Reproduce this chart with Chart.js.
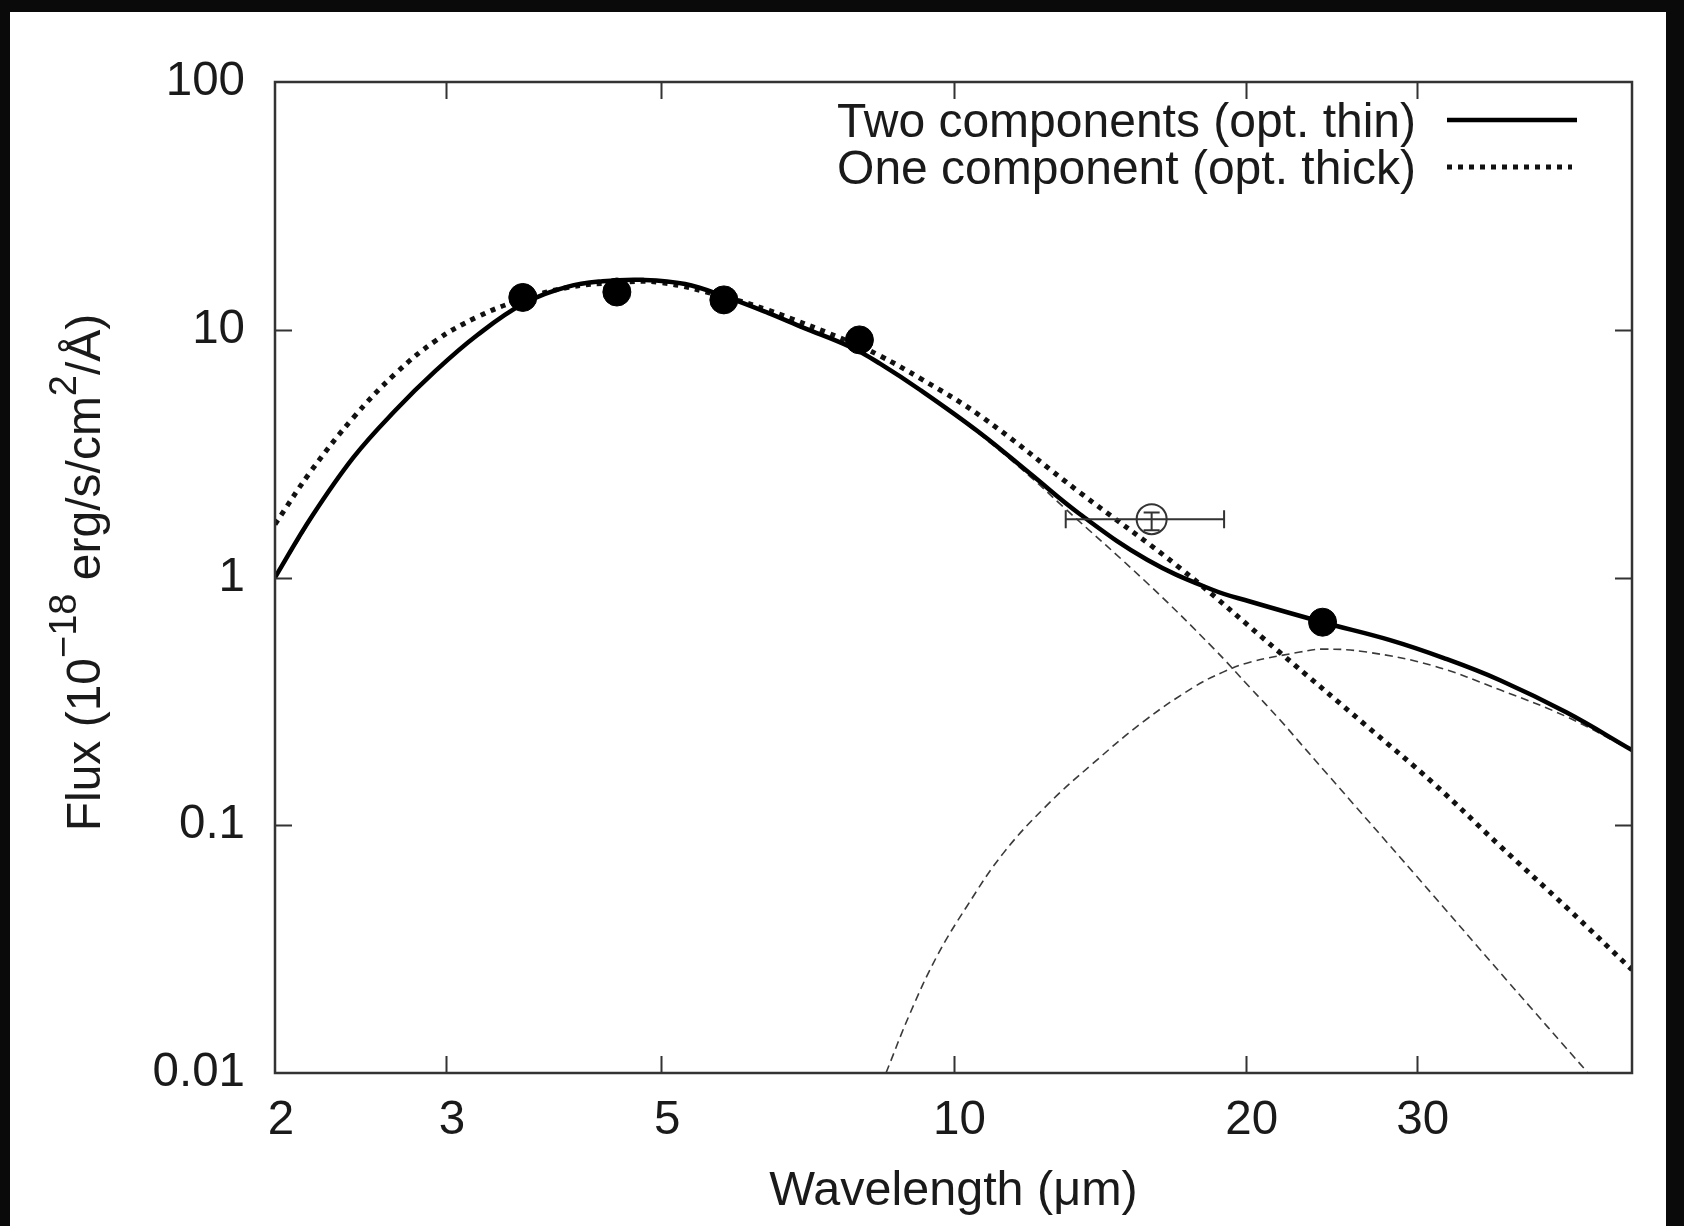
<!DOCTYPE html>
<html>
<head>
<meta charset="utf-8">
<title>SED fit</title>
<script src="https://cdn.jsdelivr.net/npm/chart.js@4.4.1/dist/chart.umd.min.js"></script>
<style>
  html, body { margin: 0; padding: 0; background: #0a0a0a; overflow: hidden; }
  body { width: 1684px; height: 1226px; position: relative; }
  #sedChart { position: absolute; left: 10px; top: 12px; background: #ffffff; }
</style>
</head>
<body>
<canvas id="sedChart" width="1656" height="1214"></canvas>
<script>
// Photometry (filled) and the 16 micron point (open, with error bars)
const photX = [3.6, 4.5, 5.8, 8.0, 24.0];
const photY = [13.5, 14.2, 13.2, 9.1, 0.66];
const openX = [16.0];
const openY = [1.72];
const openXLow = [13.05];
const openXHigh = [19.0];
const openYLow = [1.55];
const openYHigh = [1.83];

// Two components (opt. thin) - total model
const twoX = [2.0, 2.18, 2.41, 2.66, 2.93, 3.23, 3.6, 4.0, 4.35, 4.79, 5.29, 5.82, 6.44, 7.0, 7.84, 8.4, 9.25, 10.65, 12.0, 13.5, 15.83, 18.51, 20.2, 24.0, 28.17, 32.0, 36.56, 42.83, 50.0];
const twoY = [1.0, 1.75, 3.06, 4.72, 6.85, 9.5, 12.7, 14.9, 15.7, 15.9, 15.3, 13.6, 11.7, 10.2, 8.5, 7.3, 5.7, 3.83, 2.62, 1.80, 1.18, 0.89, 0.80, 0.66, 0.559, 0.473, 0.385, 0.285, 0.201];

// One component (opt. thick)
const oneX = [2.0, 2.18, 2.41, 2.66, 2.93, 3.23, 3.56, 4.0, 4.5, 5.0, 5.8, 6.44, 7.84, 8.4, 9.25, 10.65, 13.5, 17.12, 21.7, 26.66, 31.2, 36.56, 42.83, 50.0];
const oneY = [1.64, 2.70, 4.43, 6.64, 9.05, 11.25, 13.1, 14.8, 15.5, 15.5, 13.6, 12.0, 8.9, 7.85, 6.35, 4.5, 2.2, 1.09, 0.497, 0.251, 0.148, 0.0825, 0.0465, 0.0261];

// Hot and cold parts of the two-component model (thin dashed)
const hotX = [2.0, 2.41, 2.93, 3.23, 3.6, 4.0, 4.35, 4.79, 5.29, 5.82, 6.44, 7.84, 8.4, 9.25, 10.65, 12.0, 12.97, 15.83, 18.51, 20.2, 21.7, 22.75, 24.1, 30.0, 37.15, 45.05];
const hotY = [1.0, 3.06, 6.85, 9.5, 12.7, 14.9, 15.7, 15.9, 15.3, 13.6, 11.7, 8.5, 7.28, 5.67, 3.77, 2.55, 1.93, 0.95, 0.52, 0.36, 0.266, 0.215, 0.166, 0.0622, 0.0237, 0.01];
const coldX = [8.52, 9.02, 9.61, 10.32, 11.25, 12.47, 13.93, 15.69, 17.66, 18.95, 20.2, 22.75, 24.0, 26.66, 31.2, 36.56, 42.83, 50.0];
const coldY = [0.01, 0.0174, 0.0295, 0.047, 0.077, 0.12, 0.178, 0.262, 0.36, 0.415, 0.455, 0.50, 0.514, 0.50, 0.44, 0.352, 0.274, 0.2];

// Axes
const xTickValues = [2, 3, 5, 10, 20, 30];
const yTickValues = [0.01, 0.1, 1, 10, 100];
const xTitle = 'Wavelength (μm)';
const yTitleParts = [
    { text: 'Flux (10', sup: false },
    { text: '−18', sup: true },
    { text: ' erg/s/cm', sup: false },
    { text: '2', sup: true },
    { text: '/Å)', sup: false }
];

const textColor = '#1a1a1a';
const frameColor = '#333333';
const fontFamily = '"Liberation Sans", Arial, Helvetica, sans-serif';

function toPoints(xs, ys) {
    return xs.map((x, i) => ({ x: x, y: ys[i] }));
}

// Box around the plot with inward ticks on all four sides
const frameTicksPlugin = {
    id: 'frameTicks',
    afterDatasetsDraw(chart) {
        const ctx = chart.ctx;
        const a = chart.chartArea;
        const xs = chart.scales.x;
        const ys = chart.scales.y;
        const tickLen = 17;
        ctx.save();
        ctx.strokeStyle = frameColor;
        ctx.lineWidth = 2;
        ctx.beginPath();
        xTickValues.forEach(v => {
            if (v <= xs.min || v >= xs.max) return;
            const px = Math.round(xs.getPixelForValue(v)) + 0.5;
            ctx.moveTo(px, a.bottom);
            ctx.lineTo(px, a.bottom - tickLen);
            ctx.moveTo(px, a.top);
            ctx.lineTo(px, a.top + tickLen);
        });
        yTickValues.forEach(v => {
            if (v <= ys.min || v >= ys.max) return;
            const py = Math.round(ys.getPixelForValue(v)) + 0.5;
            ctx.moveTo(a.left, py);
            ctx.lineTo(a.left + tickLen, py);
            ctx.moveTo(a.right, py);
            ctx.lineTo(a.right - tickLen, py);
        });
        ctx.stroke();
        ctx.lineWidth = 2.5;
        ctx.strokeRect(a.left, a.top, a.right - a.left, a.bottom - a.top);
        ctx.restore();
    }
};

// Horizontal and vertical error bars for points that carry them
const errorBarPlugin = {
    id: 'errorBars',
    afterDatasetsDraw(chart) {
        const ctx = chart.ctx;
        const xs = chart.scales.x;
        const ys = chart.scales.y;
        ctx.save();
        ctx.strokeStyle = frameColor;
        ctx.lineWidth = 2;
        chart.data.datasets.forEach(ds => {
            if (!ds.errorBars) return;
            ds.data.forEach(p => {
                const cx = xs.getPixelForValue(p.x);
                const cy = ys.getPixelForValue(p.y);
                const x1 = xs.getPixelForValue(p.xMin);
                const x2 = xs.getPixelForValue(p.xMax);
                const y1 = ys.getPixelForValue(p.yMin);
                const y2 = ys.getPixelForValue(p.yMax);
                ctx.beginPath();
                ctx.moveTo(x1, cy); ctx.lineTo(x2, cy);
                ctx.moveTo(x1, cy - 9); ctx.lineTo(x1, cy + 9);
                ctx.moveTo(x2, cy - 9); ctx.lineTo(x2, cy + 9);
                ctx.moveTo(cx, y1); ctx.lineTo(cx, y2);
                ctx.moveTo(cx - 8, y1); ctx.lineTo(cx + 8, y1);
                ctx.moveTo(cx - 8, y2); ctx.lineTo(cx + 8, y2);
                ctx.stroke();
            });
        });
        ctx.restore();
    }
};

// Gnuplot style key: text right aligned, line sample on its right
const keyPlugin = {
    id: 'insideKey',
    afterDraw(chart) {
        const ctx = chart.ctx;
        const a = chart.chartArea;
        ctx.save();
        ctx.font = '48px ' + fontFamily;
        ctx.textAlign = 'right';
        ctx.textBaseline = 'alphabetic';
        chart.data.datasets.forEach(ds => {
            if (ds.keyRow === undefined) return;
            const base = a.top + 55 + ds.keyRow * 47;
            ctx.fillStyle = textColor;
            ctx.fillText(ds.label, a.right - 216, base);
            ctx.beginPath();
            ctx.strokeStyle = ds.borderColor;
            ctx.lineWidth = ds.borderWidth;
            ctx.setLineDash(ds.borderDash || []);
            ctx.moveTo(a.right - 185, base - 17);
            ctx.lineTo(a.right - (ds.borderDash ? 60 : 55), base - 17);
            ctx.stroke();
        });
        ctx.restore();
    }
};

// Rotated y title with superscripts
const yTitlePlugin = {
    id: 'yTitle',
    afterDraw(chart) {
        const ctx = chart.ctx;
        const a = chart.chartArea;
        const mainFont = '48px ' + fontFamily;
        const supFont = '38px ' + fontFamily;
        let total = 0;
        yTitleParts.forEach(p => {
            ctx.font = p.sup ? supFont : mainFont;
            total += ctx.measureText(p.text).width;
        });
        ctx.save();
        ctx.translate(90, (a.top + a.bottom) / 2 - 5);
        ctx.rotate(-Math.PI / 2);
        ctx.fillStyle = textColor;
        ctx.textAlign = 'left';
        ctx.textBaseline = 'alphabetic';
        let pos = -total / 2;
        yTitleParts.forEach(p => {
            ctx.font = p.sup ? supFont : mainFont;
            ctx.fillText(p.text, pos, p.sup ? -24 : 0);
            pos += ctx.measureText(p.text).width;
        });
        ctx.restore();
    }
};

const ctx = document.getElementById('sedChart');

const curveStyle = {
    pointRadius: 0,
    tension: 0.4,
    clip: 0
};

const sedChart = new Chart(ctx, {
    type: 'line',
    data: {
        datasets: [
            {
                label: 'Photometry',
                type: 'scatter',
                data: toPoints(photX, photY),
                pointRadius: 14,
                pointBackgroundColor: '#000000',
                pointBorderColor: '#000000',
                pointBorderWidth: 1,
                showLine: false
            },
            {
                label: '16 micron',
                type: 'scatter',
                data: openX.map((x, i) => ({
                    x: x, y: openY[i],
                    xMin: openXLow[i], xMax: openXHigh[i],
                    yMin: openYLow[i], yMax: openYHigh[i]
                })),
                errorBars: true,
                pointRadius: 15,
                pointBackgroundColor: 'rgba(0,0,0,0)',
                pointBorderColor: frameColor,
                pointBorderWidth: 2,
                showLine: false
            },
            Object.assign({
                label: 'Two components (opt. thin)',
                data: toPoints(twoX, twoY),
                borderColor: '#000000',
                borderWidth: 4.5,
                keyRow: 0
            }, curveStyle),
            Object.assign({
                label: 'One component (opt. thick)',
                data: toPoints(oneX, oneY),
                borderColor: '#111111',
                borderWidth: 5,
                borderDash: [5, 6],
                borderCapStyle: 'butt',
                keyRow: 1
            }, curveStyle),
            Object.assign({
                label: 'Hot component',
                data: toPoints(hotX, hotY),
                borderColor: '#3a3a3a',
                borderWidth: 1.6,
                borderDash: [8, 5]
            }, curveStyle),
            Object.assign({
                label: 'Cold component',
                data: toPoints(coldX, coldY),
                borderColor: '#3a3a3a',
                borderWidth: 1.6,
                borderDash: [8, 5]
            }, curveStyle)
        ]
    },
    options: {
        responsive: false,
        devicePixelRatio: 1,
        animation: false,
        layout: {
            padding: { left: 0, top: 70, right: 34, bottom: 0 }
        },
        plugins: {
            legend: { display: false },
            tooltip: { enabled: false }
        },
        scales: {
            x: {
                type: 'logarithmic',
                position: 'bottom',
                min: 2,
                max: 50,
                bounds: 'data',
                afterBuildTicks: s => { s.ticks = xTickValues.map(v => ({ value: v })); },
                afterFit: s => { s.height = 153; },
                grid: { display: false, drawTicks: false },
                border: { display: false },
                ticks: {
                    autoSkip: false,
                    maxRotation: 0,
                    padding: 19,
                    labelOffset: 6,
                    color: textColor,
                    font: { size: 47.5 },
                    callback: v => String(v)
                },
                title: {
                    display: true,
                    text: xTitle,
                    color: textColor,
                    font: { size: 48.5 },
                    padding: { top: 0, bottom: 5 }
                }
            },
            y: {
                type: 'logarithmic',
                position: 'left',
                min: 0.01,
                max: 100,
                bounds: 'data',
                afterBuildTicks: s => { s.ticks = yTickValues.map(v => ({ value: v })); },
                afterFit: s => { s.width = 265; },
                grid: { display: false, drawTicks: false },
                border: { display: false },
                ticks: {
                    autoSkip: false,
                    padding: 30,
                    color: textColor,
                    font: { size: 47.5 },
                    callback: v => String(v)
                }
            }
        }
    },
    plugins: [frameTicksPlugin, errorBarPlugin, keyPlugin, yTitlePlugin]
});

Chart.defaults.font.family = fontFamily;
</script>
</body>
</html>
